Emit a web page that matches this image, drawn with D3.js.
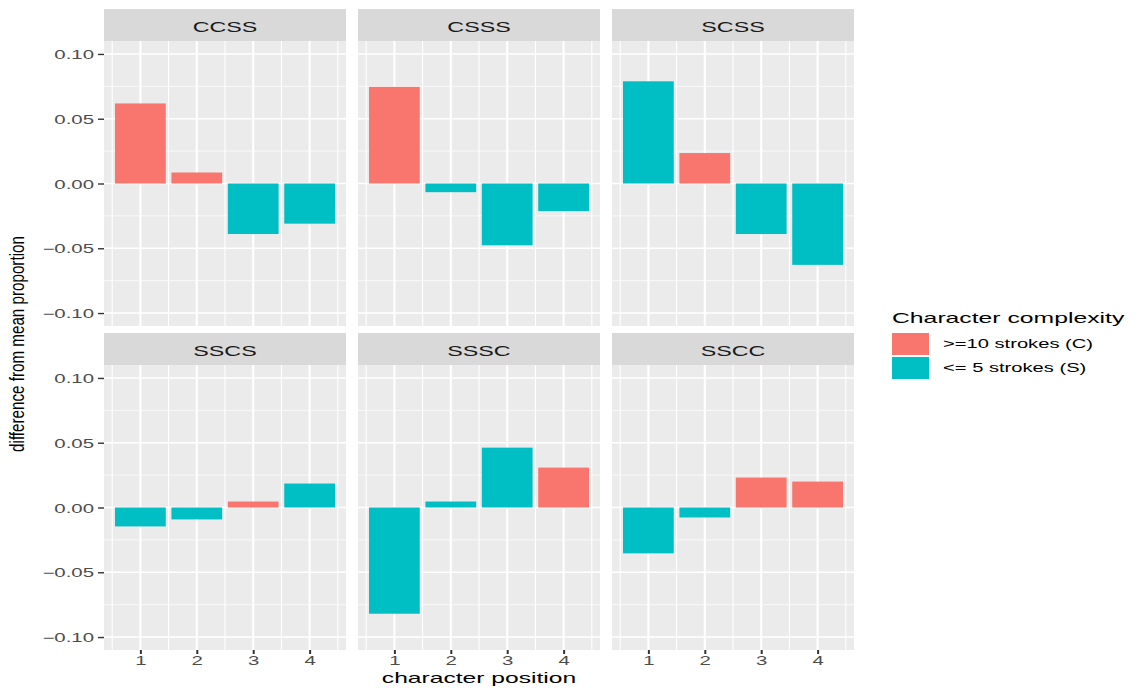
<!DOCTYPE html>
<html>
<head>
<meta charset="utf-8">
<script src="https://cdn.jsdelivr.net/npm/d3@7"></script>
<style>
  body { margin: 0; background: #fff; }
  text { font-family: "Liberation Sans", Arial, Helvetica, sans-serif; }
</style>
</head>
<body>
<svg id="chart" width="1136" height="691"></svg>
<script>
// facets, in reading order
const conditions = ["CCSS", "CSSS", "SCSS", "SSCS", "SSSC", "SSCC"];
const positions = [1, 2, 3, 4];
// difference from mean proportion, one list per facet (positions 1..4)
const CCSS = [0.0618, 0.0085, -0.0390, -0.0310];
const CSSS = [0.0746, -0.0067, -0.0477, -0.0213];
const SCSS = [0.0789, 0.0235, -0.0390, -0.0628];
const SSCS = [-0.0146, -0.0092, 0.0046, 0.0185];
const SSSC = [-0.0820, 0.0046, 0.0462, 0.0308];
const SSCC = [-0.0354, -0.0077, 0.0231, 0.0200];
const seriesValues = [CCSS, CSSS, SCSS, SSCS, SSSC, SSCC];
const complexityLabels = [">=10 strokes (C)", "<= 5 strokes (S)"];
const complexityCodes = ["C", "S"];
const yTicks = [-0.10, -0.05, 0.00, 0.05, 0.10];
const xTicks = [1, 2, 3, 4];

const colors = d3.scaleOrdinal().domain(complexityCodes).range(["#F8766D", "#00BFC4"]);

const svg = d3.select("#chart");
const colX = [104, 358, 612];
const rowY = [9, 333];
const panelW = 242, stripH = 32, panelH = 285;

const y = d3.scaleLinear().domain([-0.11, 0.11]).range([panelH, 0]);
const x = d3.scaleLinear().domain([0.355, 4.645]).range([0, panelW]);
const fmt = d3.format(".2f");

const yMinor = [-0.075, -0.025, 0.025, 0.075];
const xMinor = [0.5, 1.5, 2.5, 3.5, 4.5];

conditions.forEach((cond, i) => {
    let col = i % 3, row = Math.floor(i / 3);
    let g = svg.append("g")
        .attr("transform", `translate(${colX[col]},${rowY[row]})`);

    // strip
    g.append("rect")
        .attr("width", panelW).attr("height", stripH)
        .attr("fill", "#D9D9D9");
    g.append("text")
        .attr("transform", `translate(${panelW / 2},${stripH / 2 + 6.5}) scale(1.5,1)`)
        .attr("text-anchor", "middle")
        .style("font-size", "15.5px")
        .attr("fill", "#1A1A1A")
        .text(cond);

    let p = g.append("g").attr("transform", `translate(0,${stripH})`);
    p.append("rect")
        .attr("width", panelW).attr("height", panelH)
        .attr("fill", "#EBEBEB");

    // grid
    p.selectAll(".ymin").data(yMinor).enter().append("line")
        .attr("x1", 0).attr("x2", panelW)
        .attr("y1", d => y(d)).attr("y2", d => y(d))
        .attr("stroke", "#fff").attr("stroke-width", 0.7);
    p.selectAll(".xmin").data(xMinor).enter().append("line")
        .attr("y1", 0).attr("y2", panelH)
        .attr("x1", d => x(d)).attr("x2", d => x(d))
        .attr("stroke", "#fff").attr("stroke-width", 1.1);
    p.selectAll(".ymaj").data(yTicks).enter().append("line")
        .attr("x1", 0).attr("x2", panelW)
        .attr("y1", d => y(d)).attr("y2", d => y(d))
        .attr("stroke", "#fff").attr("stroke-width", 1.4);
    p.selectAll(".xmaj").data(xTicks).enter().append("line")
        .attr("y1", 0).attr("y2", panelH)
        .attr("x1", d => x(d)).attr("x2", d => x(d))
        .attr("stroke", "#fff").attr("stroke-width", 2.1);

    // bars
    let data = positions.map((pos, k) => ({pos: pos, value: seriesValues[i][k], code: cond[k]}));
    p.selectAll(".bar").data(data).enter().append("rect")
        .attr("x", d => x(d.pos - 0.45))
        .attr("width", d => x(d.pos + 0.45) - x(d.pos - 0.45))
        .attr("y", d => y(Math.max(0, d.value)))
        .attr("height", d => Math.abs(y(d.value) - y(0)))
        .attr("fill", d => colors(d.code));

    // axes
    if (col === 0) {
        let ax = p.append("g")
            .call(d3.axisLeft(y).tickValues(yTicks).tickFormat(fmt).tickSize(6).tickPadding(4));
        ax.select(".domain").remove();
        ax.selectAll("line").attr("stroke", "#333").attr("stroke-width", 1.4);
        ax.selectAll("text")
            .attr("fill", "#4D4D4D").style("font-size", "12px")
            .attr("x", null).attr("dy", null)
            .attr("transform", "translate(-10,4.5) scale(1.7,1)");
    }
    if (row === 1) {
        let ax = p.append("g")
            .attr("transform", `translate(0,${panelH})`)
            .call(d3.axisBottom(x).tickValues(xTicks).tickFormat(d3.format("d")).tickSize(4).tickPadding(3));
        ax.select(".domain").remove();
        ax.selectAll("line").attr("stroke", "#333").attr("stroke-width", 2);
        ax.selectAll("text")
            .attr("fill", "#4D4D4D").style("font-size", "12px")
            .attr("y", null).attr("dy", null)
            .attr("transform", "translate(0,15) scale(1.7,1)");
    }
});

// axis titles
svg.append("text")
    .attr("transform", "translate(479,683) scale(1.62,1)")
    .attr("text-anchor", "middle")
    .style("font-size", "15.2px")
    .attr("fill", "#000")
    .text("character position");
svg.append("text")
    .attr("transform", "translate(24,344) scale(1.3,1) rotate(-90)")
    .attr("text-anchor", "middle")
    .style("font-size", "15.2px")
    .attr("fill", "#000")
    .text("difference from mean proportion");

// legend
let lg = svg.append("g").attr("transform", "translate(892,0)");
lg.append("text")
    .attr("transform", "translate(0,323) scale(1.65,1)")
    .style("font-size", "15px")
    .attr("fill", "#000")
    .text("Character complexity");
complexityCodes.forEach((c, k) => {
    lg.append("rect")
        .attr("x", 0).attr("y", 333 + k * 24)
        .attr("width", 37).attr("height", 22)
        .attr("fill", colors(c));
    lg.append("text")
        .attr("transform", `translate(51,${348 + k * 24}) scale(1.68,1)`)
        .style("font-size", "12px")
        .attr("fill", "#000")
        .text(complexityLabels[k]);
});
</script>
</body>
</html>
